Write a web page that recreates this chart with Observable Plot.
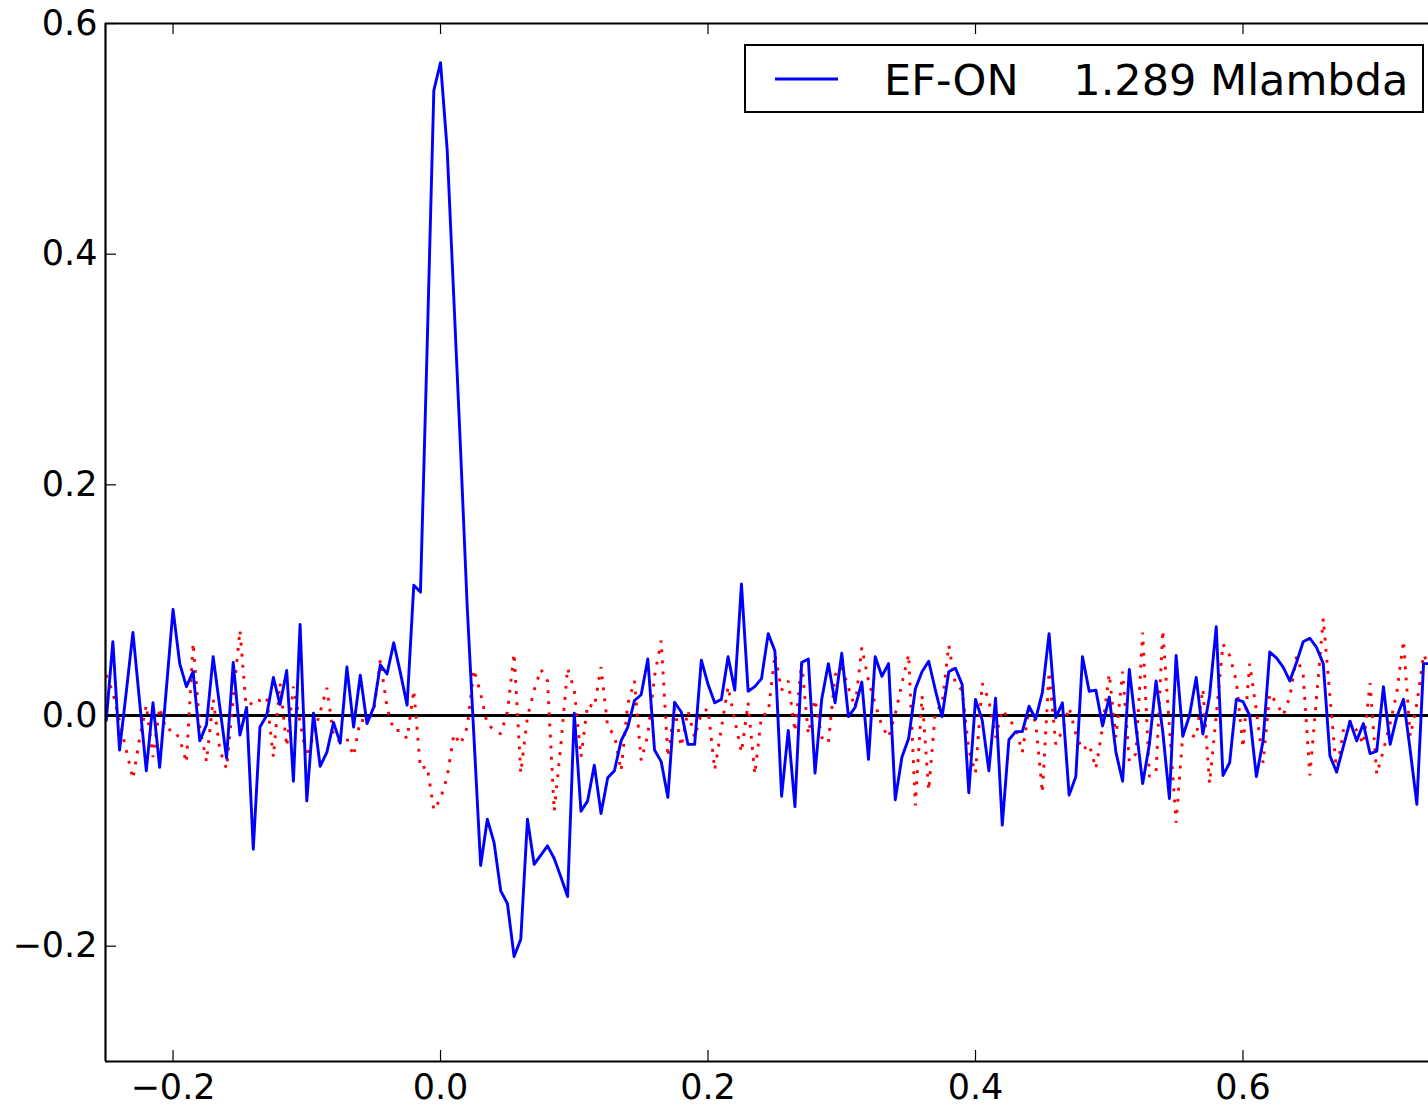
<!DOCTYPE html>
<html>
<head>
<meta charset="utf-8">
<script src="https://cdn.jsdelivr.net/npm/d3@7"></script>
<script src="https://cdn.jsdelivr.net/npm/@observablehq/plot@0.6"></script>
<style>
  html, body { margin: 0; padding: 0; background: #fff; overflow: hidden; }
  svg text { white-space: pre; }
</style>
</head>
<body>
<div id="chart"></div>
<script>
// x grid of the sampled series
const xStart = -0.25;
const xStep = 0.005;

// EF-ON (blue, solid)
const blueY = [
  -0.005, 0.064, -0.030, 0.020, 0.072, 0.012, -0.048, 0.011, -0.045, 0.023,
  0.092, 0.045, 0.025, 0.038, -0.022, -0.008, 0.051, 0.007, -0.037, 0.046,
  -0.017, 0.007, -0.116, -0.010, 0.000, 0.033, 0.0095, 0.039, -0.057, 0.079,
  -0.074, 0.002, -0.044, -0.032, -0.006, -0.024, 0.042, -0.010, 0.035, -0.007,
  0.007, 0.044, 0.036, 0.063, 0.037, 0.009, 0.113, 0.107, 0.32, 0.542,
  0.566, 0.49, 0.36, 0.23, 0.093, -0.019, -0.130, -0.090, -0.110, -0.152,
  -0.163, -0.209, -0.194, -0.090, -0.129, -0.121, -0.113, -0.124, -0.140, -0.157,
  0.002, -0.083, -0.074, -0.043, -0.085, -0.054, -0.048, -0.022, -0.010, 0.013,
  0.018, 0.049, -0.030, -0.040, -0.071, 0.0115, 0.003, -0.025, -0.025, 0.048,
  0.027, 0.011, 0.014, 0.051, 0.022, 0.114, 0.021, 0.025, 0.032, 0.071,
  0.056, -0.070, -0.013, -0.079, 0.046, 0.049, -0.050, 0.014, 0.045, 0.011,
  0.054, -0.001, 0.007, 0.029, -0.038, 0.051, 0.034, 0.045, -0.073, -0.036,
  -0.020, 0.023, 0.038, 0.047, 0.022, -0.001, 0.038, 0.041, 0.027, -0.067,
  0.014, -0.004, -0.048, 0.015, -0.095, -0.021, -0.014, -0.014, 0.008, -0.003,
  0.020, 0.071, -0.002, 0.011, -0.069, -0.053, 0.051, 0.021, 0.022, -0.009,
  0.016, -0.032, -0.057, 0.040, -0.010, -0.059, -0.025, 0.030, -0.014, -0.072,
  0.052, -0.018, 0.000, 0.033, -0.016, 0.017, 0.077, -0.052, -0.041, 0.014,
  0.012, 0.000, -0.053, -0.022, 0.055, 0.050, 0.042, 0.030, 0.046, 0.064,
  0.067, 0.059, 0.045, -0.035, -0.049, -0.027, -0.005, -0.022, -0.007, -0.033,
  -0.031, 0.025, -0.025, -0.001, 0.014, -0.030, -0.077, 0.045, 0.045
];

// reference (red, dotted)
const redY = [
  0.035, 0.020, -0.005, -0.030, -0.055, -0.020, 0.009, -0.036, 0.007, -0.013,
  -0.012, -0.020, -0.041, 0.063, -0.010, -0.040, 0.014, -0.030, -0.046, 0.014,
  0.074, 0.003, 0.014, 0.013, 0.016, -0.036, 0.028, -0.027, 0.025, -0.006,
  -0.036, -0.017, 0.003, 0.024, -0.018, -0.023, -0.020, -0.035, -0.004, -0.005,
  0.003, 0.048, 0.007, -0.013, -0.013, -0.020, 0.022, -0.046, -0.044, -0.082,
  -0.072, -0.053, -0.016, -0.025, -0.010, 0.040, 0.019, -0.008, -0.012, -0.016,
  0.003, 0.054, -0.050, -0.001, 0.022, 0.040, 0.030, -0.083, -0.025, 0.041,
  0.022, -0.036, 0.010, 0.007, 0.042, -0.010, -0.017, -0.048, 0.010, 0.030,
  -0.039, -0.017, 0.034, 0.065, -0.036, 0.006, -0.027, 0.004, -0.019, 0.002,
  0.006, -0.047, -0.011, 0.025, -0.004, -0.032, 0.011, -0.051, 0.000, 0.002,
  0.053, 0.022, 0.030, -0.014, 0.046, -0.016, 0.014, -0.019, -0.024, 0.035,
  0.042, 0.024, 0.007, 0.059, 0.030, 0.010, -0.009, -0.019, 0.001, 0.028,
  0.053, -0.078, 0.017, -0.065, 0.004, 0.009, 0.061, 0.027, 0.022, -0.030,
  -0.050, 0.028, 0.013, -0.019, 0.005, -0.003, -0.011, -0.032, 0.006, -0.006,
  -0.067, 0.038, -0.025, -0.013, 0.007, -0.016, -0.030, -0.025, -0.046, -0.010,
  0.036, -0.019, 0.038, -0.040, -0.033, 0.072, -0.053, -0.049, 0.074, -0.010,
  -0.093, -0.016, -0.016, -0.019, 0.023, -0.059, 0.000, 0.062, 0.052, 0.030,
  -0.028, 0.045, 0.004, -0.041, 0.019, 0.011, 0.000, 0.016, 0.051, 0.035,
  -0.052, 0.016, 0.084, 0.017, -0.050, -0.013, -0.005, -0.013, -0.025, 0.028,
  -0.051, -0.030, -0.007, 0.020, 0.065, -0.018, 0.010, 0.053, 0.040
];

const xTicks = [-0.2, 0.0, 0.2, 0.4, 0.6];
const yTicks = [-0.2, 0.0, 0.2, 0.4, 0.6];
const xDomain = [-0.2505, 0.7387];
const yDomain = [-0.3, 0.6];
const legendLabel = "EF-ON    1.289 Mlambda";

const toRows = arr => arr.map((v, i) => ({x: +(xStart + i * xStep).toFixed(3), y: v}));
const blue = toRows(blueY);
const red = toRows(redY);

const W = 1428, H = 1106, mL = 105, mR = 0, mT = 23, mB = 45;
const innerW = W - mL - mR, innerH = H - mT - mB;
const fmt = d3.format(".1f");

const plot = Plot.plot({
  width: W, height: H,
  marginLeft: mL, marginRight: mR, marginTop: mT, marginBottom: mB,
  x: {domain: xDomain},
  y: {domain: yDomain},
  style: {fontFamily: "'DejaVu Sans', sans-serif", background: "white", color: "black", maxWidth: "none"},
  marks: [
    Plot.ruleY([0], {stroke: "black", strokeWidth: 2.9}),
    Plot.line(red, {x: "x", y: "y", stroke: "#ff0000", strokeWidth: 2.9, strokeDasharray: "2.9,8.2",
                    strokeLinecap: "butt", strokeLinejoin: "miter", clip: true}),
    Plot.line(blue, {x: "x", y: "y", stroke: "#0000ff", strokeWidth: 2.9, strokeLinecap: "butt", clip: true}),
    Plot.tickX(xTicks, {x: d => d, insetBottom: innerH - 11, stroke: "black", strokeWidth: 1.2}),
    Plot.tickX(xTicks, {x: d => d, insetTop: innerH - 11, stroke: "black", strokeWidth: 1.2}),
    Plot.tickY(yTicks, {y: d => d, insetRight: innerW - 11, stroke: "black", strokeWidth: 1.2}),
    Plot.ruleX([xDomain[0]], {stroke: "black", strokeWidth: 2.2}),
    Plot.ruleY(yDomain, {stroke: "black", strokeWidth: 2.2}),
    Plot.axisX({ticks: xTicks, tickSize: 0, tickPadding: 13, tickFormat: fmt, fontSize: 35, label: null}),
    Plot.axisY({ticks: yTicks, tickSize: 0, tickPadding: 8, tickFormat: fmt, fontSize: 35, label: null})
  ]
});

// legend box (upper right, inside the axes)
const svg = d3.select(plot);
const lg = svg.append("g").attr("class", "legend");
lg.append("rect").attr("x", 745).attr("y", 45).attr("width", 678).attr("height", 67)
  .attr("fill", "white").attr("stroke", "black").attr("stroke-width", 2);
lg.append("line").attr("x1", 775).attr("x2", 838).attr("y1", 79).attr("y2", 79)
  .attr("stroke", "#0000ff").attr("stroke-width", 2.9);
lg.append("text").attr("x", 884).attr("y", 95)
  .attr("text-anchor", "start")
  .attr("font-size", 43).attr("font-family", "'DejaVu Sans', sans-serif")
  .attr("fill", "black").attr("xml:space", "preserve")
  .text(legendLabel);

document.getElementById("chart").appendChild(plot);
</script>
</body>
</html>
